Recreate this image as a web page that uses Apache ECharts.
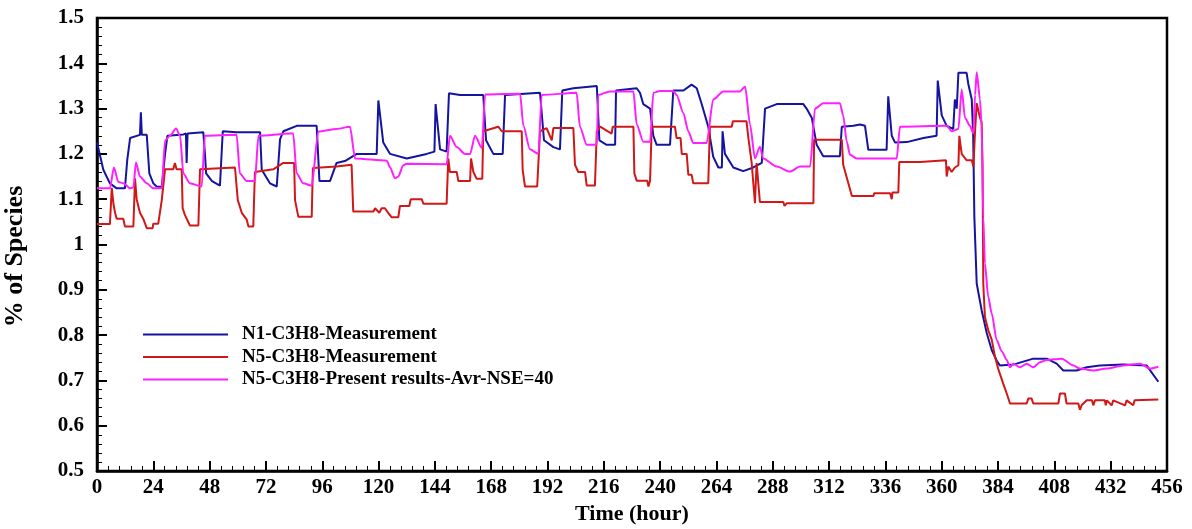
<!DOCTYPE html>
<html>
<head>
<meta charset="utf-8">
<title>% of Species vs Time</title>
<script src="https://cdn.jsdelivr.net/npm/echarts@6/dist/echarts.min.js"></script>
<style>
  html, body { margin: 0; padding: 0; background: #ffffff; }
  #chart { width: 1192px; height: 529px; }
</style>
</head>
<body>
<div id="chart"></div>
<script>
// Series names shown in the legend
const seriesNames = [
  'N1-C3H8-Measurement',
  'N5-C3H8-Measurement',
  'N5-C3H8-Present results-Avr-NSE=40'
];

// Axis settings (hours on x, % of species on y)
const xTicks = { min: 0, max: 456, step: 24 };
const yTicks = { min: 0.5, max: 1.5, step: 0.1 };

// N1 measurement: [hour, % of species]
const n1Measured = [
  [0,1.225],[2.7,1.165],[5.5,1.135],[8.4,1.124],[11.9,1.124],[12.9,1.187],[14.1,1.235],[18.3,1.242],
  [18.7,1.292],[19.1,1.242],[21.2,1.242],[22.3,1.157],[24,1.135],[25.4,1.128],[27.6,1.127],[29,1.2],
  [30,1.24],[36.8,1.243],[37.9,1.245],[38.2,1.18],[38.6,1.245],[45.3,1.248],[46,1.2],[46.5,1.157],
  [49,1.14],[52.4,1.13],[53.6,1.25],[59.5,1.248],[69.5,1.248],[70.2,1.165],[73.7,1.135],[76.6,1.128],
  [78,1.232],[79.4,1.25],[85.1,1.262],[93.6,1.262],[94.8,1.14],[99.3,1.14],[102.1,1.18],[106,1.185],
  [110.7,1.2],[119.2,1.2],[119.9,1.318],[122,1.225],[124.9,1.2],[132,1.19],[140.5,1.2],[143.8,1.205],
  [144.3,1.31],[146.2,1.21],[149,1.205],[150,1.334],[154.7,1.33],[164.6,1.33],[165.8,1.23],[168.9,1.2],
  [172.9,1.2],[173.9,1.33],[188.8,1.335],[190.5,1.23],[194.5,1.215],[197.3,1.21],[198.3,1.34],[203,1.345],
  [213,1.35],[214.1,1.23],[217.2,1.22],[220.8,1.22],[221.2,1.34],[230,1.345],[231.4,1.335],[232.8,1.31],
  [235.7,1.3],[237.1,1.24],[238.5,1.22],[244.2,1.22],[245.6,1.34],[249.9,1.34],[253.4,1.353],[255.6,1.345],
  [257.7,1.31],[260.5,1.26],[262.6,1.194],[264.8,1.17],[266.3,1.17],[266.6,1.25],[267.6,1.2],[271.2,1.17],
  [275.4,1.162],[279.7,1.17],[283.3,1.18],[284.7,1.3],[289.7,1.31],[301,1.31],[302.4,1.3],[304.6,1.28],
  [306.7,1.22],[309.5,1.195],[316.6,1.195],[317.4,1.26],[322.3,1.262],[325.2,1.265],[327.3,1.262],[328.7,1.209],
  [336.5,1.209],[337.2,1.327],[338.7,1.24],[340.1,1.225],[345.1,1.226],[352.2,1.235],[357.8,1.24],[358.3,1.362],
  [360,1.285],[362.1,1.262],[364.9,1.255],[365.6,1.32],[366.4,1.3],[367.1,1.379],[370.6,1.379],[371.3,1.355],
  [372.8,1.32],[373.4,1.24],[373.9,1.061],[374.9,0.914],[377,0.855],[379.2,0.804],[381.3,0.767],[383.4,0.744],
  [384.8,0.733],[390.5,0.735],[391.9,0.737],[399,0.748],[404.7,0.748],[409,0.737],[411.8,0.722],[417.5,0.722],
  [421.8,0.729],[427.4,0.733],[437.4,0.735],[447.3,0.733],[452.3,0.697]
];

// N5 measurement: [hour, % of species]
const n5Measured = [
  [0,1.045],[5.5,1.045],[6.3,1.125],[7,1.09],[7.7,1.07],[8.4,1.057],[11.2,1.057],[11.9,1.04],
  [15.5,1.04],[16.2,1.146],[16.9,1.1],[18.3,1.07],[19.7,1.057],[21.2,1.036],[23.7,1.036],[24,1.046],
  [26.1,1.046],[26.8,1.07],[27.6,1.098],[29,1.166],[32.5,1.166],[33.2,1.18],[33.9,1.166],[36.1,1.166],
  [36.5,1.08],[37.5,1.065],[39.6,1.042],[43.2,1.042],[43.9,1.166],[58.8,1.17],[60,1.098],[61.7,1.07],
  [63.8,1.055],[64.5,1.04],[66.6,1.04],[67.3,1.16],[75.1,1.166],[79.4,1.18],[84,1.18],[84.4,1.098],
  [85.8,1.061],[91.5,1.061],[92,1.169],[102.1,1.172],[108.5,1.176],[109.2,1.073],[117.8,1.073],[118.5,1.08],
  [120.3,1.07],[121.3,1.08],[122.7,1.08],[124.1,1.07],[125.6,1.06],[128.4,1.06],[129.1,1.085],[133.1,1.085],
  [133.7,1.1],[138.4,1.1],[139.1,1.09],[149,1.09],[149.7,1.19],[150.4,1.16],[153.3,1.16],[154,1.14],
  [159,1.14],[159.4,1.19],[160.4,1.16],[161.8,1.145],[164.2,1.145],[164.6,1.25],[171,1.26],[172.5,1.25],
  [181,1.25],[181.4,1.165],[182.4,1.128],[187.6,1.128],[188.8,1.25],[191.6,1.257],[193.8,1.23],[194.5,1.257],
  [203,1.257],[203.7,1.176],[205.1,1.16],[208,1.16],[208.7,1.13],[212.2,1.13],[213,1.25],[214.4,1.26],
  [219.3,1.245],[219.8,1.26],[228.6,1.26],[229,1.157],[230,1.141],[234.5,1.141],[235,1.128],[235.7,1.141],
  [236.4,1.26],[246.3,1.26],[247,1.235],[248.7,1.235],[249.2,1.2],[251.3,1.2],[252,1.154],[253.4,1.154],
  [254.1,1.135],[260.5,1.135],[261.2,1.26],[270.5,1.26],[271,1.272],[276.8,1.272],[277.6,1.235],[279,1.18],
  [280.4,1.091],[281.1,1.18],[281.8,1.18],[282.5,1.094],[292.5,1.094],[293,1.085],[293.9,1.091],[305.3,1.091],
  [305.6,1.231],[317.4,1.231],[318,1.176],[320.2,1.135],[321.7,1.107],[330.9,1.107],[331.2,1.113],[338,1.113],
  [338.7,1.1],[339,1.115],[341.5,1.115],[341.9,1.182],[350.7,1.182],[351,1.186],[361.8,1.186],[362.1,1.15],
  [362.8,1.172],[364.2,1.16],[365.6,1.17],[367.1,1.175],[367.5,1.24],[368.5,1.2],[370.6,1.186],[372.8,1.186],
  [373.5,1.172],[374.2,1.25],[374.9,1.312],[376.3,1.28],[377,1.27],[377.4,1.17],[377.7,0.914],[378.4,0.84],
  [379.8,0.811],[381.3,0.79],[382.7,0.752],[384.1,0.725],[386.2,0.693],[387.7,0.671],[389.1,0.649],[396.2,0.649],
  [396.9,0.66],[398.3,0.66],[399,0.649],[409.7,0.649],[410.4,0.671],[412.5,0.671],[413.2,0.649],[418.2,0.649],
  [418.9,0.635],[419.6,0.645],[421.8,0.656],[424,0.656],[424.6,0.645],[425.3,0.656],[429.5,0.656],[429.9,0.645],
  [430.4,0.656],[432.4,0.645],[433.1,0.656],[438.1,0.645],[438.8,0.656],[441.6,0.645],[442.2,0.656],[452.3,0.658]
];

// N5 model results (Avr-NSE=40): [hour, % of species]
const n5Model = [
  [0,1.124],[5.5,1.124],[7.2,1.17],[9.1,1.138],[11.2,1.135],[14.1,1.124],[15.5,1.126],[16.6,1.181],
  [18.3,1.15],[21.2,1.135],[24,1.124],[27.6,1.124],[29,1.23],[31.1,1.24],[33.7,1.256],[35.4,1.24],
  [36.8,1.157],[39.6,1.135],[44.6,1.128],[46,1.24],[59.5,1.242],[60.9,1.157],[63.8,1.14],[67.3,1.14],
  [68.8,1.24],[82.2,1.245],[83.6,1.245],[85.1,1.157],[87.9,1.135],[91.5,1.13],[94.3,1.249],[102.1,1.255],
  [107.8,1.26],[110,1.19],[123.5,1.185],[124.9,1.17],[127,1.146],[128.4,1.15],[130.5,1.175],[131.9,1.178],
  [149,1.177],[150.4,1.24],[153.3,1.215],[156.8,1.2],[159,1.2],[161.1,1.24],[164,1.213],[165.4,1.331],
  [180.3,1.333],[181.7,1.262],[184.5,1.21],[188.1,1.2],[189.5,1.33],[204.4,1.335],[205.8,1.26],[208.7,1.22],
  [213,1.22],[213.6,1.33],[218.6,1.338],[228.6,1.338],[230,1.265],[232.8,1.227],[235.7,1.227],[237.1,1.335],
  [239.9,1.339],[245.6,1.339],[247,1.33],[249.9,1.29],[252,1.25],[254.1,1.224],[259.8,1.224],[262.6,1.32],
  [266.9,1.338],[274,1.338],[276.2,1.349],[278.3,1.265],[280.4,1.19],[282.5,1.216],[283.9,1.19],[289.7,1.172],
  [295.3,1.161],[299.6,1.172],[303.9,1.172],[306,1.3],[309.5,1.312],[316.6,1.312],[318,1.285],[319.5,1.228],
  [320.9,1.198],[323.8,1.19],[340.8,1.19],[342.2,1.26],[362.1,1.262],[364.2,1.25],[367.1,1.255],[368.5,1.342],
  [369.9,1.28],[372,1.262],[373.5,1.245],[374.2,1.33],[374.9,1.38],[376.3,1.32],[377,1.26],[377.7,1.061],
  [378.4,0.958],[379.8,0.885],[381.3,0.848],[383.4,0.789],[385.6,0.764],[387.7,0.745],[389.1,0.729],[390.5,0.737],
  [393.3,0.729],[396.2,0.737],[399,0.729],[401.9,0.74],[404.7,0.745],[411.1,0.748],[416.1,0.733],[418.9,0.726],
  [424.6,0.722],[430.3,0.726],[437.4,0.733],[444.5,0.737],[448.8,0.726],[452.3,0.73]
];

const seriesColors = ['#1414a0', '#d01818', '#ff20ff'];
const serif = '"Liberation Serif", "Times New Roman", serif';

const chart = echarts.init(document.getElementById('chart'), null, { renderer: 'canvas' });

const labelStyle = { fontFamily: serif, fontWeight: 'bold', fontSize: 21, color: '#000' };

function makeLine(name, data, color, smooth) {
  return {
    name: name,
    type: 'line',
    data: data,
    symbol: 'none',
    showSymbol: false,
    smooth: smooth || false,
    smoothMonotone: 'x',
    clip: true,
    lineStyle: { color: color, width: 2 },
    itemStyle: { color: color },
    emphasis: { disabled: true }
  };
}

chart.setOption({
  animation: false,
  backgroundColor: '#ffffff',
  grid: {
    left: 97, right: 25, top: 18, bottom: 58,
    outerBoundsMode: 'none',
    containLabel: false,
    show: true, borderColor: '#000', borderWidth: 2.5, backgroundColor: 'transparent'
  },
  legend: {
    orient: 'vertical',
    left: 143,
    top: 325,
    padding: 0,
    icon: 'rect',
    itemWidth: 85,
    itemHeight: 2,
    itemGap: 3.5,
    data: seriesNames,
    textStyle: {
      fontFamily: serif, fontWeight: 'bold', fontSize: 19, color: '#000',
      lineHeight: 16, padding: [0, 0, 0, 9]
    }
  },
  xAxis: {
    type: 'value',
    min: xTicks.min, max: xTicks.max, interval: xTicks.step,
    name: 'Time (hour)',
    nameLocation: 'middle',
    nameGap: 31,
    nameTextStyle: { fontFamily: serif, fontWeight: 'bold', fontSize: 22, color: '#000' },
    axisLine: { show: true, onZero: false, lineStyle: { color: '#000', width: 2.5 } },
    axisTick: { show: true, inside: true, length: 10, lineStyle: { color: '#000', width: 2 } },
    minorTick: { show: true, splitNumber: 5, length: 5, lineStyle: { color: '#000', width: 1 } },
    splitLine: { show: false },
    axisLabel: Object.assign({ margin: 6 }, labelStyle)
  },
  yAxis: {
    type: 'value',
    min: yTicks.min, max: yTicks.max, interval: yTicks.step,
    name: '% of Species',
    nameLocation: 'middle',
    nameGap: 69,
    nameTextStyle: {
      fontFamily: serif, fontWeight: 'bold', fontSize: 26, color: '#000',
      padding: [0, 24, 0, 0]
    },
    axisLine: { show: true, onZero: false, lineStyle: { color: '#000', width: 2.5 } },
    axisTick: { show: true, inside: true, length: 10, lineStyle: { color: '#000', width: 2 } },
    minorTick: { show: true, splitNumber: 5, length: 5, lineStyle: { color: '#000', width: 1 } },
    splitLine: { show: false },
    axisLabel: Object.assign({
      margin: 13,
      formatter: function (v) { return String(Math.round(v * 10) / 10); }
    }, labelStyle)
  },
  series: [
    makeLine(seriesNames[0], n1Measured, seriesColors[0]),
    makeLine(seriesNames[1], n5Measured, seriesColors[1]),
    makeLine(seriesNames[2], n5Model, seriesColors[2], 0.25)
  ]
});
</script>
</body>
</html>
